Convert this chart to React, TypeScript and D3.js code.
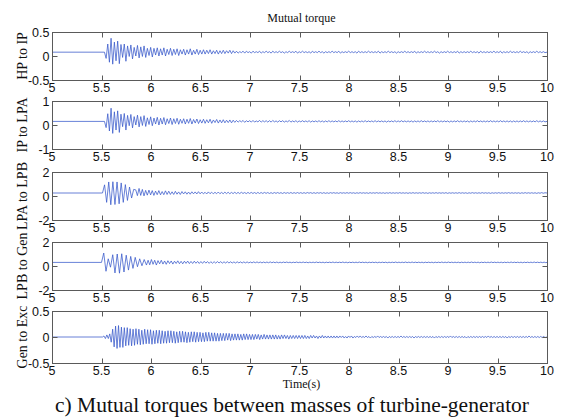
import React from "react";
import * as d3 from "d3";

// ---------- data ----------
const timeDomain: [number, number] = [5, 10];
const timeTicks = [5, 5.5, 6, 6.5, 7, 7.5, 8, 8.5, 9, 9.5, 10];
const timeTickLabels = ["5", "5.5", "6", "6.5", "7", "7.5", "8", "8.5", "9", "9.5", "10"];

const panelLabels = ["HP to IP", "IP to LPA", "LPA to LPB", "LPB to Gen", "Gen to Exc"];
const panelLimits = [0.5, 1, 2, 2, 0.5];
const panelTicks = [[-0.5, 0, 0.5], [-1, 0, 1], [-2, 0, 2], [-2, 0, 2], [-0.5, 0, 0.5]];
const panelTickLabels = [["-0.5", "0", "0.5"], ["-1", "0", "1"], ["-2", "0", "2"], ["-2", "0", "2"], ["-0.5", "0", "0.5"]];
const preFaultLevels = [0.08, 0.15, 0.25, 0.3, 0];

// successive oscillation extrema, deviation from pre-fault level, in units of 0.01
const hpIpOsc = [
  0,-13,17,-21,29,-25,21,-18,23,-24,16,-11,17,-19,13,-9,15,-14,10,-8,
  14,-12,11,-9,13,-11,8,-7,10,-10,8,-6,9,-8,7,-6,9,-8,6,-5,
  8,-7,6,-5,7,-7,5,-4,6,-6,5,-4,7,-6,4,-4,6,-5,4,-4,
  5,-4,4,-3,5,-4,3,-3,4,-4,3,-3,4,-3,3,-2,4,-3,3,-2,
  2,-2,1,-1,2,-2,2,-1,1,-2,2,-1,1,-1,2,-2,1,-1,2,-1,
  1,-2,2,-1,1,-1,2,-1,1,-2,1,-1,2,-1,1,-1,2,-2,1,-1,
  2,-1,1,-1,1,-2,2,-1,1,-1,2,-1,1,-2,1,-1,1,-1,2,-1,
  1,-1,2,-2,1,-1,1,-1,2,-1,1,-1,1,-2,2,-1,1,-1,1,-1,
  2,-1,1,-1,1,-1,2,-2,1,-1,1,-1,2,-1,1,-1,1,-2,1,-1,
  1,-1,2,-1,1,-1,1,-1,2,-2,1,-1,1,-1,2,-1,1,-1,1,-1,
  2,-1,1,-2,1,-1,1,-1,2,-1,1,-1,1,-1,2,-2,1,-1,1,-1,
  1,-1,2,-1,1,-1,1,-2,2,-1,1,-1,1,-1,1,-1,2,-1,1,-1,
  2,-2,1,-1,1,-1,2,-1,1,-1,1,-1,2,-1,1,-1,1,-2,1,-1,
  1,-1,2,-1,1,-1,1,-1,
];

const ipLpaOsc = [
  0,-26,32,-40,55,-50,40,-36,44,-46,30,-22,33,-36,25,-18,29,-27,20,-15,
  26,-23,20,-17,24,-21,15,-13,19,-18,14,-11,17,-15,13,-11,16,-14,11,-9,
  14,-13,11,-9,13,-12,9,-8,11,-11,9,-8,12,-11,8,-7,10,-9,7,-7,
  9,-8,7,-6,9,-8,6,-5,8,-7,6,-6,7,-6,5,-5,6,-6,5,-4,
  4,-3,3,-2,4,-4,3,-2,3,-3,4,-3,2,-2,4,-3,3,-2,3,-3,
  3,-3,4,-2,2,-3,3,-2,3,-3,2,-2,4,-3,2,-2,3,-3,2,-2,
  3,-2,2,-2,3,-3,2,-2,2,-2,3,-2,2,-3,2,-2,3,-2,2,-2,
  2,-2,3,-2,2,-2,2,-2,3,-2,2,-2,2,-3,2,-2,2,-2,3,-2,
  2,-2,2,-2,3,-2,2,-2,2,-2,2,-3,2,-2,2,-2,3,-2,2,-2,
  3,-2,2,-2,2,-2,2,-3,2,-2,2,-2,3,-2,2,-2,2,-2,2,-2,
  2,-2,3,-2,2,-2,2,-2,2,-3,2,-2,2,-2,3,-2,2,-2,2,-2,
  2,-3,2,-2,2,-2,3,-2,2,-2,2,-2,2,-2,3,-2,2,-2,2,-2,
  3,-2,2,-2,2,-2,2,-3,2,-2,2,-2,2,-2,3,-2,2,-2,2,-2,
  2,-2,3,-2,2,-2,2,-2,
];

const lpaLpbBurst = [0,68,-78,92,-98,94,-96,92,-90,84,-78,70,-62,50,-42,30];
const lpaLpbOsc = [
  26,-22,38,-20,30,-24,22,-18,24,-16,20,-20,16,-14,20,-15,12,-14,18,-12,
  15,-12,10,-12,14,-10,9,-12,12,-8,10,-10,8,-10,10,-7,9,-8,11,-7,
  8,-7,6,-8,9,-6,7,-7,6,-6,8,-6,5,-6,7,-5,6,-6,5,-5,
  6,-5,5,-5,6,-4,4,-5,5,-4,5,-4,4,-5,5,-4,4,-4,5,-3,
  4,-4,3,-4,4,-3,4,-3,3,-4,4,-3,3,-3,4,-3,3,-3,4,-3,
  3,-3,3,-3,4,-2,3,-3,3,-3,3,-2,3,-3,3,-3,2,-3,3,-2,
  3,-2,2,-3,3,-2,2,-2,3,-2,3,-2,2,-3,2,-2,3,-2,2,-2,
  2,-3,3,-2,2,-2,3,-2,2,-2,2,-3,2,-2,3,-2,2,-2,2,-2,
  3,-2,2,-2,2,-3,2,-2,3,-2,2,-2,2,-2,3,-2,2,-3,2,-2,
  2,-2,3,-2,2,-2,2,-2,3,-3,2,-2,2,-2,2,-2,3,-2,2,-2,
  2,-3,2,-2,3,-2,2,-2,2,-2,3,-2,2,-2,2,-3,2,-2,2,-2,
  3,-2,2,-2,2,-2,3,-2,2,-2,2,-2,2,-3,2,-2,3,-2,2,-2,
  2,-2,2,-3,2,-2,3,-2,2,
];

const lpbGenBurst = [0,78,-74,30,-40,64,-88,70,-90,72,-80,60,-64,50,-50,42,-36,30,-28,24];
const lpbGenOsc = [
  -22,18,-20,24,-16,18,-22,15,-12,18,-14,12,-16,14,-10,12,-14,10,-9,13,
  -11,9,-12,10,-8,11,-10,8,-9,10,-7,8,-9,7,-8,9,-6,7,-8,6,
  -7,6,-6,7,-5,6,-6,5,-5,6,-5,5,-5,4,-5,5,-4,4,-5,4,
  -4,4,-4,3,-4,4,-3,4,-3,3,-4,3,-3,3,-3,4,-3,3,-3,3,
  -3,2,-3,3,-2,3,-2,2,-3,2,-2,3,-2,2,-2,3,-2,2,-3,2,
  -2,2,-2,3,-2,2,-2,2,-3,2,-2,2,-2,3,-2,2,-2,2,-2,3,
  -2,2,-3,2,-2,2,-2,2,-2,3,-2,2,-2,2,-3,2,-2,2,-2,2,
  -3,2,-2,2,-2,2,-3,2,-2,2,-2,3,-2,2,-2,2,-2,3,-2,2,
  -2,3,-2,2,-2,2,-2,2,-3,2,-2,2,-2,2,-3,2,-2,2,-2,3,
  -2,2,-2,3,-2,2,-2,2,-2,2,-3,2,-2,2,-2,2,-2,3,-2,2,
  -2,2,-3,2,-2,2,-2,2,-2,3,-2,2,-2,2,-2,2,-3,2,-2,2,
  -2,3,-2,2,-2,2,-2,2,-3,2,-2,2,-2,2,-2,3,-2,2,-2,2,
  -2,2,-2,
];

const genExcOsc = [
  0,2,-3,4,-3,6,-10,15,-19,21,-22,22,-20,19,-20,18,-17,18,-16,16,
  -17,15,-16,16,-14,15,-15,13,-14,15,-13,14,-13,14,-14,12,-13,13,-12,13,
  -13,12,-12,11,-12,12,-11,12,-11,11,-12,10,-11,11,-10,11,-10,10,-11,9,
  -10,10,-9,10,-10,9,-9,9,-9,8,-9,9,-8,9,-8,8,-8,8,-8,7,
  -8,7,-7,7,-7,7,-6,7,-7,6,-6,6,-6,6,-6,5,-6,6,-5,6,
  -5,5,-5,5,-5,5,-4,5,-5,4,-4,5,-4,4,-4,4,-4,4,-4,4,
  -4,3,-4,4,-3,4,-3,3,-4,3,-3,3,-3,3,-3,3,-3,3,-3,3,
  -3,2,-3,3,-2,3,-2,2,-3,2,-2,3,-2,2,-2,2,-2,2,-2,2,
  -2,2,-2,2,-1,2,-2,1,-2,2,-1,2,-2,1,-1,2,-1,2,-1,1,
  -1,2,-1,1,-2,1,-1,1,-1,2,-1,1,-1,1,-1,1,-2,1,-1,1,
  -1,1,-1,1,-1,2,-1,1,-1,1,-1,1,-1,1,-2,1,-1,1,-1,1,
  -1,1,-1,1,-1,1,-1,1,-2,1,-1,1,-1,1,-1,1,-1,1,-1,2,
  -1,1,-1,1,-1,1,-1,1,-1,1,-2,1,-1,1,-1,1,-1,1,-1,1,
  -1,1,-1,1,-1,2,-1,1,-1,1,-1,1,-1,1,-1,1,-1,1,-2,1,
  -1,1,-1,1,-1,1,-1,1,-1,1,-1,1,-1,2,-1,1,-1,1,-1,1,
  -1,1,-1,1,-1,
];

type Segment = { start: number; step: number; values: number[] };
const panelSegments: Segment[][] = [
  [{ start: 5.53, step: 1 / 60, values: hpIpOsc }],
  [{ start: 5.53, step: 1 / 60, values: ipLpaOsc }],
  [{ start: 5.51, step: 0.021, values: lpaLpbBurst }, { start: 5.846, step: 1 / 60, values: lpaLpbOsc }],
  [{ start: 5.5, step: 0.0227, values: lpbGenBurst }, { start: 5.954, step: 1 / 60, values: lpbGenOsc }],
  [{ start: 5.51, step: 1 / 68, values: genExcOsc }],
];

const titleText = "Mutual torque";
const xLabelText = "Time(s)";
const captionText = "c) Mutual torques between masses of turbine-generator";

// ---------- layout ----------
const W = 568;
const H = 419;
const X_LEFT = 52;
const X_RIGHT = 547;
const PANEL_TOPS = [32, 101, 172, 242, 311];
const PANEL_HEIGHTS = [48, 48, 48, 48, 52];
const TICK = 5;
const AXIS_COLOR = "#5a5a5a";
const LINE_COLOR = "#3657c9";
const SANS = "'Liberation Sans', Arial, Helvetica, sans-serif";
const SERIF = "'Liberation Serif', 'Times New Roman', Times, serif";

function buildPoints(base: number, segs: Segment[]): [number, number][] {
  const pts: [number, number][] = [[timeDomain[0], base]];
  segs.forEach((s) => {
    s.values.forEach((v, i) => {
      const t = s.start + i * s.step;
      if (t <= timeDomain[1]) pts.push([t, base + v * 0.01]);
    });
  });
  const last = pts[pts.length - 1];
  if (last[0] < timeDomain[1]) pts.push([timeDomain[1], base]);
  return pts;
}

export default function App() {
  const x = d3.scaleLinear().domain(timeDomain).range([X_LEFT, X_RIGHT]);

  return (
    <svg
      width={W}
      height={H}
      viewBox={`0 0 ${W} ${H}`}
      style={{ position: "absolute", left: 0, top: 0, display: "block", background: "#fff" }}
    >
      <rect x={0} y={0} width={W} height={H} fill="#fff" />
      {panelLabels.map((label, i) => {
        const top = PANEL_TOPS[i];
        const ph = PANEL_HEIGHTS[i];
        const bottom = top + ph;
        const lim = panelLimits[i];
        const y = d3.scaleLinear().domain([-lim, lim]).range([bottom, top]);
        const pts = buildPoints(preFaultLevels[i], panelSegments[i]);
        const line = d3
          .line<[number, number]>()
          .x((d) => x(d[0]))
          .y((d) => y(d[1]));
        const bx = Math.round(X_LEFT) + 0.5;
        const bw = Math.round(X_RIGHT) - Math.round(X_LEFT);
        return (
          <g key={label}>
            <path d={line(pts) || ""} fill="none" stroke={LINE_COLOR} strokeWidth={0.75} />
            <rect x={bx} y={top + 0.5} width={bw} height={ph} fill="none" stroke={AXIS_COLOR} strokeWidth={1} />
            {timeTicks.map((t) => {
              const px = Math.round(x(t)) + 0.5;
              return (
                <g key={t}>
                  <line x1={px} x2={px} y1={bottom + 0.5} y2={bottom + 0.5 - TICK} stroke={AXIS_COLOR} />
                  <line x1={px} x2={px} y1={top + 0.5} y2={top + 0.5 + TICK} stroke={AXIS_COLOR} />
                </g>
              );
            })}
            {panelTicks[i].map((v) => {
              const py = Math.round(y(v)) + 0.5;
              return (
                <g key={v}>
                  <line x1={bx} x2={bx + TICK} y1={py} y2={py} stroke={AXIS_COLOR} />
                  <line x1={bx + bw} x2={bx + bw - TICK} y1={py} y2={py} stroke={AXIS_COLOR} />
                </g>
              );
            })}
            {panelTicks[i].map((v, k) => (
              <text
                key={"yl" + v}
                x={X_LEFT - 2.5}
                y={y(v)}
                dy="0.36em"
                textAnchor="end"
                fontFamily={SANS}
                fontSize={12.5}
                fill="#111"
              >
                {panelTickLabels[i][k]}
              </text>
            ))}
            {timeTicks.map((t, k) => (
              <text
                key={"xl" + t}
                x={x(t)}
                y={bottom + 11.5}
                textAnchor="middle"
                fontFamily={SANS}
                fontSize={12.5}
                fill="#111"
              >
                {timeTickLabels[k]}
              </text>
            ))}
            <text
              transform={`translate(27,${(top + bottom) / 2}) rotate(-90)`}
              textAnchor="middle"
              fontFamily={SERIF}
              fontSize={14}
              fill="#111"
            >
              {label}
            </text>
          </g>
        );
      })}
      <text x={(X_LEFT + X_RIGHT) / 2 + 2} y={22} textAnchor="middle" fontFamily={SERIF} fontSize={12} fill="#111">
        {titleText}
      </text>
      <text x={(X_LEFT + X_RIGHT) / 2 + 2} y={388} textAnchor="middle" fontFamily={SERIF} fontSize={12} fill="#111">
        {xLabelText}
      </text>
      <text x={292} y={412} textAnchor="middle" fontFamily={SERIF} fontSize={21.5} fill="#111">
        {captionText}
      </text>
    </svg>
  );
}
